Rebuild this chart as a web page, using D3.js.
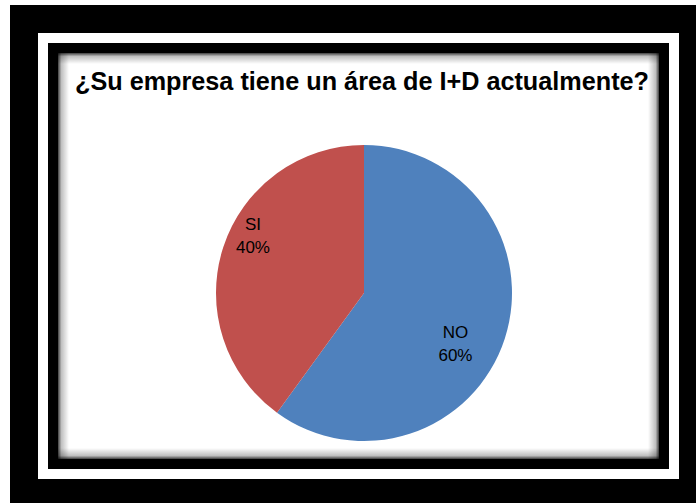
<!DOCTYPE html>
<html><head><meta charset="utf-8">
<script src="https://cdn.jsdelivr.net/npm/d3@7"></script>
<style>html,body{margin:0;padding:0;background:#fff;}svg{display:block;}</style>
</head><body>
<script>
const categories = ["NO", "SI"];
const values = [60, 40];
const percentLabels = ["60%", "40%"];
const colors = ["#4F81BD", "#C0504D"];
const title = "¿Su empresa tiene un área de I+D actualmente?";

const W = 696, H = 503;
const svg = d3.select("body").append("svg").attr("width", W).attr("height", H);

// frames
svg.append("rect").attr("x", 10).attr("y", 5).attr("width", W - 10).attr("height", H - 5).attr("fill", "#000");
svg.append("rect").attr("x", 38).attr("y", 33).attr("width", 641).attr("height", 446).attr("fill", "#fff");
svg.append("rect").attr("x", 48).attr("y", 43).attr("width", 621).attr("height", 426).attr("fill", "#000");

// chart area with inner shadow
const defs = svg.append("defs");
const ca = {x: 58, y: 53, w: 601, h: 406};
const grads = [
  {id: "gl", x1: 0, y1: 0, x2: 1, y2: 0},
  {id: "gr", x1: 1, y1: 0, x2: 0, y2: 0},
  {id: "gt", x1: 0, y1: 0, x2: 0, y2: 1},
  {id: "gb", x1: 0, y1: 1, x2: 0, y2: 0}
];
grads.forEach(g => {
  const lg = defs.append("linearGradient").attr("id", g.id)
    .attr("x1", g.x1).attr("y1", g.y1).attr("x2", g.x2).attr("y2", g.y2);
  lg.append("stop").attr("offset", 0).attr("stop-color", "#000").attr("stop-opacity", 0.75);
  lg.append("stop").attr("offset", 0.3).attr("stop-color", "#000").attr("stop-opacity", 0.25);
  lg.append("stop").attr("offset", 1).attr("stop-color", "#000").attr("stop-opacity", 0);
});
svg.append("rect").attr("x", ca.x).attr("y", ca.y).attr("width", ca.w).attr("height", ca.h).attr("fill", "#fff");
const sw = 11;
svg.append("rect").attr("x", ca.x).attr("y", ca.y).attr("width", sw).attr("height", ca.h).attr("fill", "url(#gl)");
svg.append("rect").attr("x", ca.x + ca.w - sw).attr("y", ca.y).attr("width", sw).attr("height", ca.h).attr("fill", "url(#gr)");
svg.append("rect").attr("x", ca.x).attr("y", ca.y).attr("width", ca.w).attr("height", sw).attr("fill", "url(#gt)");
svg.append("rect").attr("x", ca.x).attr("y", ca.y + ca.h - sw).attr("width", ca.w).attr("height", sw).attr("fill", "url(#gb)");

// title
svg.append("text").attr("x", 362).attr("y", 90)
  .attr("text-anchor", "middle")
  .attr("font-family", "Liberation Sans, Arial, sans-serif")
  .attr("font-weight", "bold").attr("font-size", 25)
  .attr("textLength", 574).attr("lengthAdjust", "spacingAndGlyphs")
  .attr("fill", "#000").text(title);

// pie
const cx = 364, cy = 293, R = 148;
const pie = d3.pie().sort(null).value(d => d)(values);
const arc = d3.arc().innerRadius(0).outerRadius(R);
const g = svg.append("g").attr("transform", `translate(${cx},${cy})`);
g.selectAll("path").data(pie).enter().append("path")
  .attr("d", arc).attr("fill", (d, i) => colors[i]);

const offset = 10 * Math.PI / 180;
const labelR = [0.70 * R, 0.85 * R];
pie.forEach((d, i) => {
  const a = (d.startAngle + d.endAngle) / 2 + offset;
  const x = Math.sin(a) * labelR[i], y = -Math.cos(a) * labelR[i];
  const t = g.append("text").attr("text-anchor", "middle")
    .attr("font-family", "Liberation Sans, Arial, sans-serif")
    .attr("font-size", 17).attr("fill", "#000");
  t.append("tspan").attr("x", x).attr("y", y - 4).text(categories[i]);
  t.append("tspan").attr("x", x).attr("y", y + 19).text(percentLabels[i]);
});
</script>
</body></html>
